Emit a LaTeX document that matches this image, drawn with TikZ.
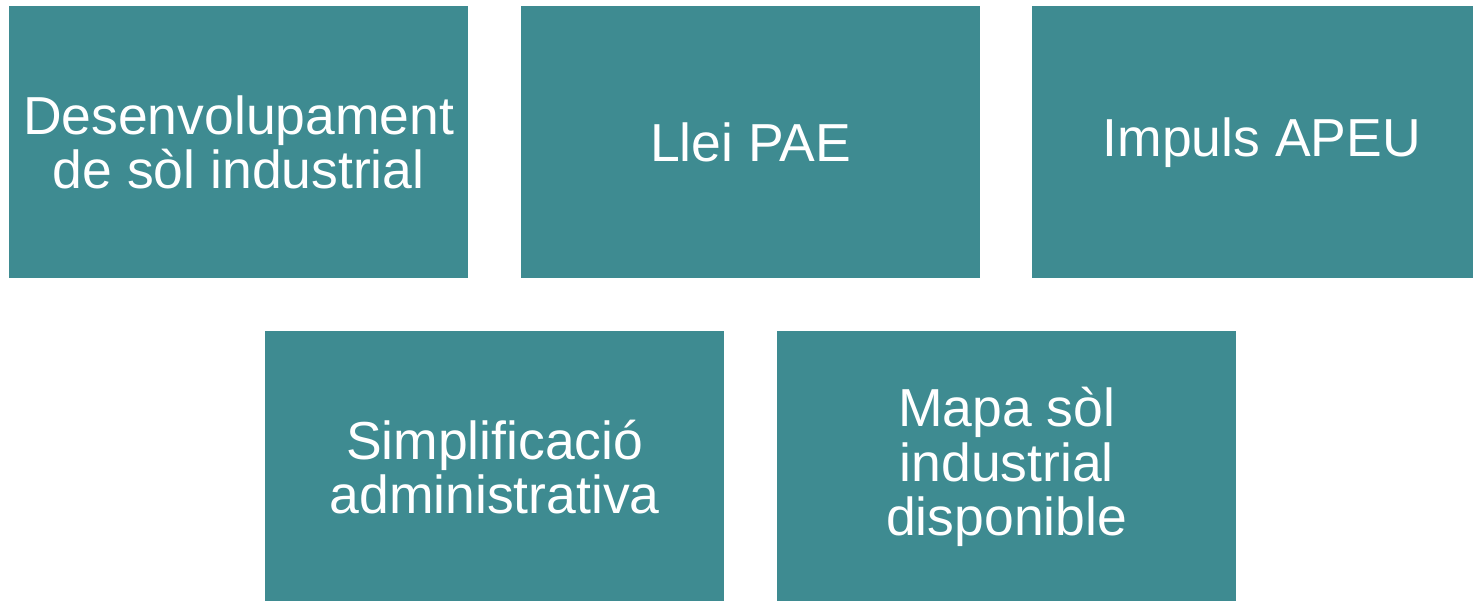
\documentclass[tikz,border=0pt]{standalone}
\usepackage{fontspec}
\setmainfont{Liberation Sans}
\definecolor{teal1}{RGB}{62,139,145}
\begin{document}
\begin{tikzpicture}[x=1pt,y=-1pt,
  tbox/.style={fill=teal1, draw=none, minimum width=459pt, minimum height=272pt, inner sep=0pt, anchor=north west,
    text=white, align=center, font=\fontsize{53.5}{54.5}\selectfont}]
\useasboundingbox[fill=white] (0,0) rectangle (1473,600);
\begin{scope}
\clip (0,0) rectangle (1473,600);
\node[tbox] (a) at (9,6) {Desenvolupament\\de sòl industrial};
\node[tbox] (b) at (521,6) {Llei PAE};
\node[tbox] (c) at (1032,6) {Impuls APEU};
\node[tbox] (d) at (265,331) {Simplificació\\administrativa};
\node[tbox] (e) at (777,331) {Mapa sòl\\industrial\\disponible};
\end{scope}
\end{tikzpicture}
\end{document}
